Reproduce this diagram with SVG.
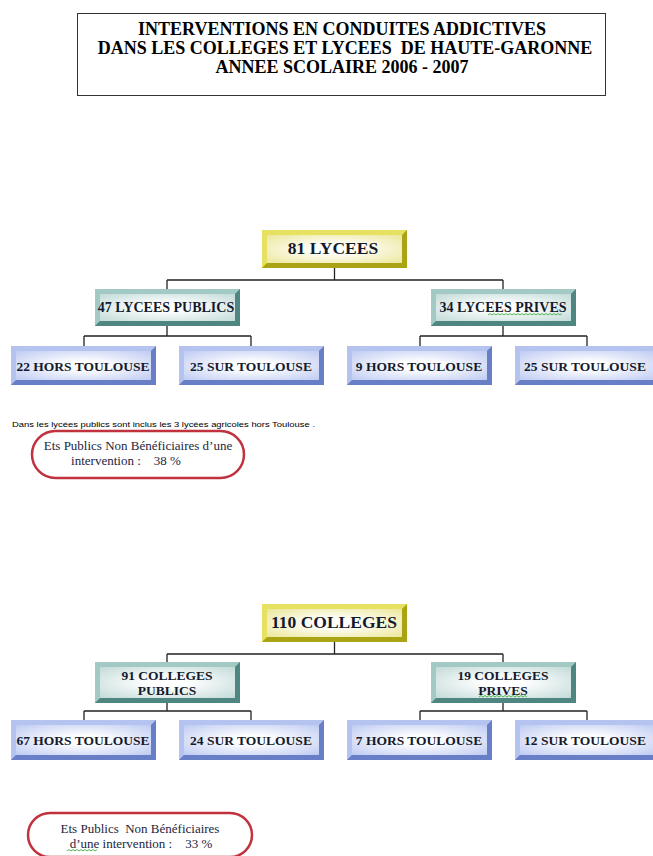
<svg xmlns="http://www.w3.org/2000/svg" width="653" height="856" viewBox="0 0 653 856">
<style>
.t{font-family:"Liberation Serif","Times New Roman",serif;font-weight:bold;fill:#141a2e;text-anchor:middle}
.title{font-size:18px;fill:#000}
.big{font-size:17.5px}
.lbl{font-size:13.5px}
.lbt{font-size:14px}
.pt{font-family:"Liberation Serif","Times New Roman",serif;font-size:13px;fill:#1c2540;text-anchor:middle}
.note{font-family:"Liberation Sans",Arial,sans-serif;font-size:7.5px;fill:#000}
.pill{fill:#fff;stroke:#c0323e;stroke-width:2.5}
.conn{fill:none;stroke:#222;stroke-width:1.3}
.sq{fill:none;stroke:#3fae3f;stroke-width:0.9}
</style>
<defs>
<radialGradient id="gy" cx="0.5" cy="0.5" r="0.7"><stop offset="0.2" stop-color="#ffffff"/><stop offset="1" stop-color="#ece79a"/></radialGradient>
<radialGradient id="gt" cx="0.5" cy="0.5" r="0.7"><stop offset="0.2" stop-color="#ffffff"/><stop offset="1" stop-color="#c2dbd8"/></radialGradient>
<radialGradient id="gb" cx="0.5" cy="0.5" r="0.7"><stop offset="0.2" stop-color="#ffffff"/><stop offset="1" stop-color="#bfcbf2"/></radialGradient>
<symbol id="yl" overflow="visible">
<rect x="0" y="0" width="145" height="38" fill="#d6cf1c"/>
<polygon points="0,0 145,0 140,5 5,5 5,33 0,38" fill="#e6e160"/>
<polygon points="145,0 145,38 0,38 5,33 140,33 140,5" fill="#aaa414"/>
<rect x="5" y="5" width="135" height="28" fill="url(#gy)"/>
</symbol>
<symbol id="tl" overflow="visible">
<rect x="0" y="0" width="145" height="37" fill="#78aaa5"/>
<polygon points="0,0 145,0 140,5 5,5 5,32 0,37" fill="#a3c9c5"/>
<polygon points="145,0 145,37 0,37 5,32 140,32 140,5" fill="#4f8681"/>
<rect x="5" y="5" width="135" height="27" fill="url(#gt)"/>
</symbol>
<symbol id="tc" overflow="visible">
<rect x="0" y="0" width="145" height="41" fill="#78aaa5"/>
<polygon points="0,0 145,0 140,5 5,5 5,36 0,41" fill="#a3c9c5"/>
<polygon points="145,0 145,41 0,41 5,36 140,36 140,5" fill="#4f8681"/>
<rect x="5" y="5" width="135" height="31" fill="url(#gt)"/>
</symbol>
<symbol id="bl" overflow="visible">
<rect x="0" y="0" width="145" height="39" fill="#8fa3e0"/>
<polygon points="0,0 145,0 140,5 5,5 5,34 0,39" fill="#b5c3f0"/>
<polygon points="145,0 145,39 0,39 5,34 140,34 140,5" fill="#687ec6"/>
<rect x="5" y="5" width="135" height="29" fill="url(#gb)"/>
</symbol>
<symbol id="bc" overflow="visible">
<rect x="0" y="0" width="145" height="40" fill="#8fa3e0"/>
<polygon points="0,0 145,0 140,5 5,5 5,35 0,40" fill="#b5c3f0"/>
<polygon points="145,0 145,40 0,40 5,35 140,35 140,5" fill="#687ec6"/>
<rect x="5" y="5" width="135" height="30" fill="url(#gb)"/>
</symbol>
</defs>
<rect width="653" height="856" fill="#fff"/>

<g id="title">
<rect x="77.5" y="13.5" width="528" height="82" fill="#fff" stroke="#333" stroke-width="1"/>
<text class="t title" x="342" y="35">INTERVENTIONS EN CONDUITES ADDICTIVES</text>
<text class="t title" x="345" y="54" xml:space="preserve">DANS LES COLLEGES ET LYCEES  DE HAUTE-GARONNE</text>
<text class="t title" x="342" y="73">ANNEE SCOLAIRE 2006 - 2007</text>
</g>

<g id="connectors">
<path class="conn" d="M334.5,268 V280 M167,280 H503 M167,280 V289 M503,280 V289"/>
<path class="conn" d="M167,326 V336 M84,336 H251 M84,336 V346 M251,336 V346"/>
<path class="conn" d="M503,326 V336 M420,336 H587 M420,336 V346 M587,336 V346"/>
<path class="conn" d="M334.5,642 V654 M167,654 H503 M167,654 V662 M503,654 V662"/>
<path class="conn" d="M167,703 V711 M84,711 H251 M84,711 V720 M251,711 V720"/>
<path class="conn" d="M503,703 V711 M420,711 H587 M420,711 V720 M587,711 V720"/>
</g>

<g id="n81lycees"><use href="#yl" x="262" y="230"/><text class="t big" x="333" y="254">81 LYCEES</text></g>
<g id="n47publics"><use href="#tl" x="95" y="289"/><text class="t lbt" x="166" y="312">47 LYCEES PUBLICS</text></g>
<g id="n34prives"><use href="#tl" x="431" y="289"/><text class="t lbt" x="503" y="312">34 LYCEES PRIVES</text>
<path class="sq" d="M488,315 l2,-1.5 l2,1.5 l2,-1.5 l2,1.5 l2,-1.5 l2,1.5 l2,-1.5 l2,1.5 l2,-1.5 l2,1.5 l2,-1.5 l2,1.5 l2,-1.5 l2,1.5 l2,-1.5 l2,1.5 l2,-1.5 l2,1.5 l2,-1.5 l2,1.5 l2,-1.5 l2,1.5 l2,-1.5 l2,1.5 l2,-1.5 l2,1.5 l2,-1.5 l2,1.5 l2,-1.5 l2,1.5 l2,-1.5 l2,1.5 l2,-1.5 l2,1.5 l2,-1.5 l2,1.5 l2,-1.5"/></g>
<g id="n22hors"><use href="#bl" x="11" y="346"/><text class="t lbl" x="83" y="371">22 HORS TOULOUSE</text></g>
<g id="n25sur"><use href="#bl" x="179" y="346"/><text class="t lbl" x="251" y="371">25 SUR TOULOUSE</text></g>
<g id="n9hors"><use href="#bl" x="347" y="346"/><text class="t lbl" x="419" y="371">9 HORS TOULOUSE</text></g>
<g id="n25sur2"><use href="#bl" x="515" y="346"/><text class="t lbl" x="585" y="371">25 SUR TOULOUSE</text></g>

<g id="note1">
<text class="note" x="12" y="427" textLength="303" lengthAdjust="spacingAndGlyphs">Dans les lycées publics sont inclus les 3 lycées agricoles hors Toulouse .</text>
</g>
<g id="pill1">
<rect class="pill" x="32" y="431" width="212" height="47" rx="23.5"/>
<text class="pt" x="138" y="450">Ets Publics Non Bénéficiaires d’une</text>
<text class="pt" x="126" y="465" xml:space="preserve">intervention :    38 %</text>
</g>

<g id="n110colleges"><use href="#yl" x="262" y="604"/><text class="t big" x="334" y="628">110 COLLEGES</text></g>
<g id="n91publics"><use href="#tc" x="95" y="662"/><text class="t lbl" x="167" y="680">91 COLLEGES</text><text class="t lbl" x="167" y="695">PUBLICS</text></g>
<g id="n19prives"><use href="#tc" x="431" y="662"/><text class="t lbl" x="503" y="680">19 COLLEGES</text><text class="t lbl" x="503" y="695">PRIVES</text>
<path class="sq" d="M479,697 l2,-1.5 l2,1.5 l2,-1.5 l2,1.5 l2,-1.5 l2,1.5 l2,-1.5 l2,1.5 l2,-1.5 l2,1.5 l2,-1.5 l2,1.5 l2,-1.5 l2,1.5 l2,-1.5 l2,1.5 l2,-1.5 l2,1.5 l2,-1.5 l2,1.5 l2,-1.5 l2,1.5 l2,-1.5 l2,1.5"/></g>
<g id="n67hors"><use href="#bc" x="11" y="720"/><text class="t lbl" x="83" y="745">67 HORS TOULOUSE</text></g>
<g id="n24sur"><use href="#bc" x="179" y="720"/><text class="t lbl" x="251" y="745">24 SUR TOULOUSE</text></g>
<g id="n7hors"><use href="#bc" x="347" y="720"/><text class="t lbl" x="419" y="745">7 HORS TOULOUSE</text></g>
<g id="n12sur"><use href="#bc" x="515" y="720"/><text class="t lbl" x="585" y="745">12 SUR TOULOUSE</text></g>

<g id="pill2">
<rect class="pill" x="28" y="813" width="224" height="44" rx="22"/>
<text class="pt" x="140" y="833" xml:space="preserve">Ets Publics  Non Bénéficiaires</text>
<text class="pt" x="141" y="848" xml:space="preserve">d’une intervention :    33 %</text>
<path class="sq" d="M67,851 l2,-1.5 l2,1.5 l2,-1.5 l2,1.5 l2,-1.5 l2,1.5 l2,-1.5 l2,1.5 l2,-1.5 l2,1.5 l2,-1.5 l2,1.5 l2,-1.5 l2,1.5 l2,-1.5"/>
</g>
</svg>
